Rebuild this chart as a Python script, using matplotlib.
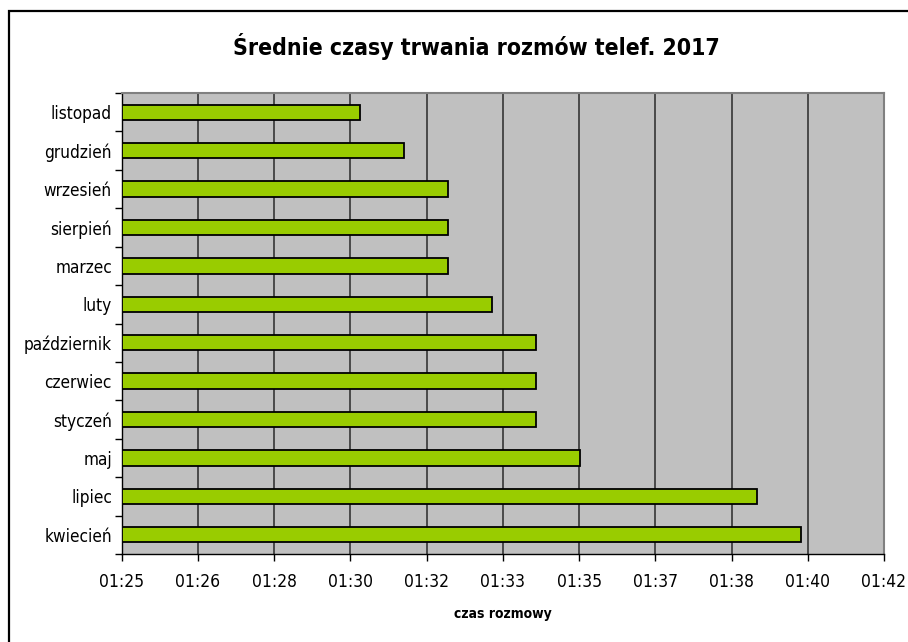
import numpy as np
import matplotlib
matplotlib.use("Agg")
import matplotlib.pyplot as plt
from matplotlib.patches import Rectangle

# Dane: średni czas rozmowy w sekundach (od góry wykresu)
months = ["listopad", "grudzień", "wrzesień", "sierpień", "marzec", "luty",
          "październik", "czerwiec", "styczeń", "maj", "lipiec", "kwiecień"]
seconds = [90, 91, 92, 92, 92, 93, 94, 94, 94, 95, 99, 100]

# Oś X jak w Excelu: min ~84.6 s, krok 0.00002 dnia (1.728 s)
x_min = 84.6
x_step = 1.728
tick_labels = ["01:25", "01:26", "01:28", "01:30", "01:32", "01:33",
               "01:35", "01:37", "01:38", "01:40", "01:42"]

plt.rcParams['font.family'] = ['DejaVu Sans']

fig = plt.figure(figsize=(9.08, 6.42), dpi=100)
ax = fig.add_axes([121.7 / 908, 1 - 554 / 642, (884 - 121.7) / 908, (554 - 93) / 642])

y = np.arange(len(months))
ax.barh(y, np.array(seconds) - x_min, left=x_min, height=0.4,
        color="#99CC00", edgecolor="black", linewidth=1.3, zorder=3)

xticks = [x_min + i * x_step for i in range(len(tick_labels))]
ax.set_xlim(xticks[0], xticks[-1])
ax.set_ylim(len(months) - 0.5, -0.5)

ax.set_facecolor("#C0C0C0")
ax.set_xticks(xticks)
ax.set_xticklabels(tick_labels, fontsize=12.5, fontstretch="condensed")
ax.set_yticks(y)
ax.set_yticklabels(months, fontsize=12.3, fontstretch="condensed")
ax.tick_params(axis="y", length=0, pad=7)
ax.set_yticks(np.arange(len(months) + 1) - 0.5, minor=True)
ax.tick_params(axis="y", which="minor", length=5, width=1, color="black")
ax.tick_params(axis="x", length=5, width=1, pad=9, direction="out")

ax.grid(True, axis="x", color="#404040", linewidth=1.3, zorder=1)
ax.set_axisbelow(True)

for side in ["top", "right"]:
    ax.spines[side].set_color("#808080")
    ax.spines[side].set_linewidth(1.5)
for side in ["left", "bottom"]:
    ax.spines[side].set_color("black")
    ax.spines[side].set_linewidth(1)

ax.set_xlabel("czas rozmowy", fontsize=10, fontweight="bold",
              fontstretch="condensed", labelpad=11)
fig.text(476 / 908, 1 - 47 / 642, "Średnie czasy trwania rozmów telef. 2017",
         ha="center", va="center", fontsize=16.5, fontweight="bold",
         fontstretch="condensed")

# ramka wykresu (prawa i dolna krawędź poza obrazem)
fig.patches.append(Rectangle((8.5 / 908, -0.1), 1.2, (642 - 11) / 642 + 0.1,
                             transform=fig.transFigure, fill=False,
                             edgecolor="black", linewidth=1.6))

fig.savefig("out.png", dpi=100)
